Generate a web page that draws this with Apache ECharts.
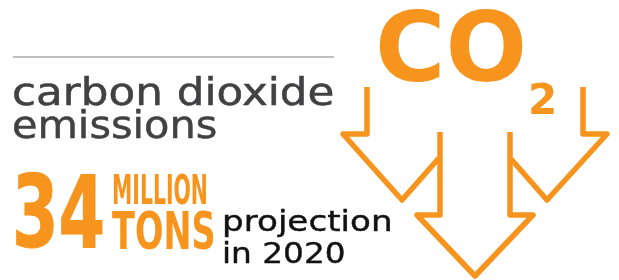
<!DOCTYPE html>
<html>
<head>
<meta charset="utf-8">
<script src="https://cdn.jsdelivr.net/npm/echarts@6/dist/echarts.min.js"></script>
<style>
  html, body { margin: 0; padding: 0; background: #fff; }
  #chart { width: 619px; height: 280px; }
</style>
</head>
<body>
<div id="chart"></div>
<script>
// values shown in the infographic
const gas = ["CO", "2"];
const title = ["carbon dioxide", "emissions"];
const amount = ["34"];
const unit = ["MILLION", "TONS"];
const note = ["projection", "in 2020"];

const orange = "#F7941D";
const grey = "#414042";

// the three open arrows below "CO2"
function arrowLeft() {
  return [[367, 87], [367, 134], [343, 134], [402, 200], [439, 158]];
}
function arrowMid() {
  return [[440, 132], [440, 215], [417, 215], [475, 276], [533, 215], [510, 215], [510, 132]];
}
function arrowRight() {
  return [[583, 87], [583, 134], [607, 134], [547, 200], [511, 159]];
}

function line(points) {
  return {
    type: "polyline",
    shape: { points: points },
    style: { stroke: orange, lineWidth: 5.5, fill: null, lineJoin: "round" },
  };
}

function txt(x, y, text, font, color, sx, bold) {
  return {
    type: "text",
    x: x,
    y: y,
    scaleX: sx || 1,
    style: {
      text: text,
      font: font,
      fill: color,
      stroke: bold ? color : null,
      lineWidth: bold || 0,
      verticalAlign: "top",
    },
  };
}

let option = {
  animation: false,
  graphic: [
    {
      type: "line",
      shape: { x1: 13, y1: 57, x2: 334, y2: 57 },
      style: { stroke: "#BCBEC0", lineWidth: 2 },
    },
    txt(12, 77, title[0], "37px 'DejaVu Sans'", grey, 1.18, 0.5),
    txt(12, 110, title[1], "37px 'DejaVu Sans'", grey, 1.12, 0.5),
    txt(12, 171, amount[0], "bold 100px 'DejaVu Sans'", orange, 0.67, 1),
    txt(112, 174, unit[0], "bold 40px 'DejaVu Sans'", orange, 0.51),
    txt(112, 209, unit[1], "bold 52px 'DejaVu Sans'", orange, 0.645),
    txt(222, 210, note[0], "28px 'DejaVu Sans'", "#111", 1.22, 0.4),
    txt(222, 242, note[1], "28px 'DejaVu Sans'", "#111", 1.17, 0.4),
    txt(375, 8, gas[0], "bold 96px 'DejaVu Sans'", orange),
    txt(528, 82, gas[1], "bold 42px 'DejaVu Sans'", orange),
    line(arrowLeft()),
    line(arrowMid()),
    line(arrowRight()),
  ],
};

let myChart = echarts.init(document.getElementById("chart"));
myChart.setOption(option, true);
</script>
</body>
</html>
